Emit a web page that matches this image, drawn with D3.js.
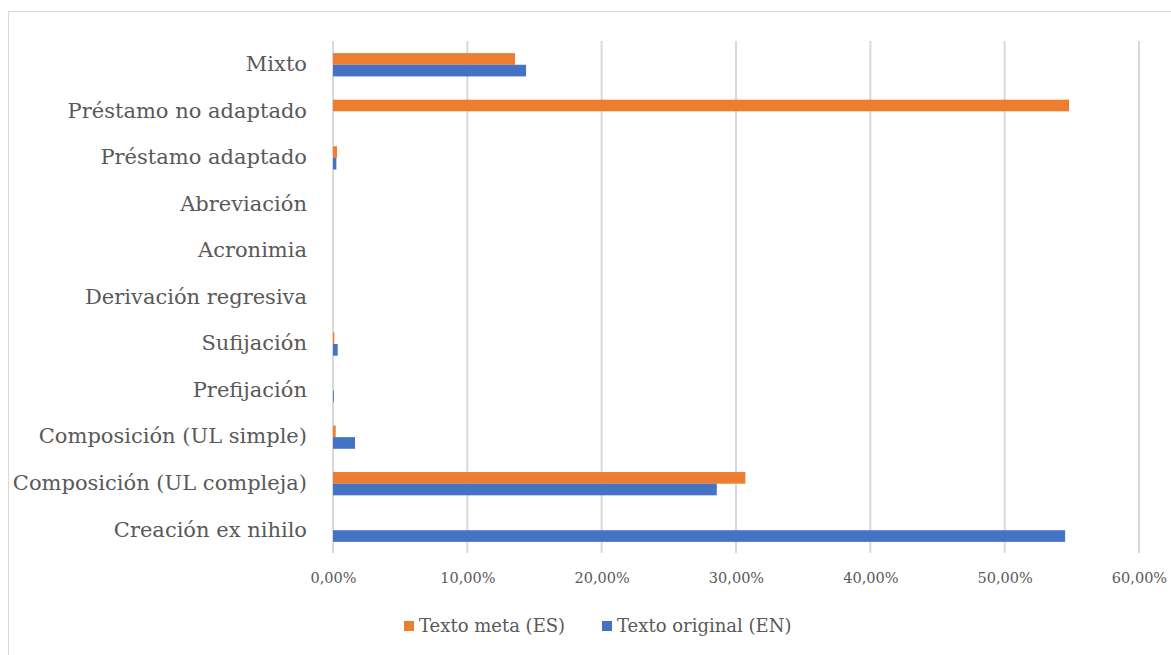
<!DOCTYPE html>
<html><head><meta charset="utf-8">
<script src="https://cdn.jsdelivr.net/npm/d3@7"></script>
<style>body{margin:0;background:#fff}svg{display:block}</style>
</head><body>
<script>
const categories = ["Creación ex nihilo","Composición (UL compleja)","Composición (UL simple)","Prefijación","Sufijación","Derivación regresiva","Acronimia","Abreviación","Préstamo adaptado","Préstamo no adaptado","Mixto"];
const metaES = [0, 30.7, 0.2, 0, 0.1, 0, 0, 0, 0.3, 54.8, 13.55];
const originalEN = [54.5, 28.57, 1.64, 0.06, 0.35, 0, 0, 0, 0.25, 0, 14.37];
const ticks = [0,10,20,30,40,50,60];
const seriesNames = ["Texto meta (ES)","Texto original (EN)"];
const colors = ["#ED7D31","#4472C4"];

const W=1171,H=655;
const svg=d3.select("body").append("svg").attr("width",W).attr("height",H);
const font='"Palatino Linotype","Book Antiqua",Palatino,"DejaVu Serif",serif';
svg.append("rect").attr("x",8.5).attr("y",11.5).attr("width",W+20).attr("height",H+20).attr("fill","none").attr("stroke","#d9d9d9");

const x=d3.scaleLinear().domain([0,60]).range([333,1139]);
const y=d3.scaleBand().domain(categories.slice().reverse()).range([41.5,553.5]).paddingInner(0.5).paddingOuter(0.25);
const sub=d3.scaleBand().domain([0,1]).range([0,y.bandwidth()]);

svg.append("g").selectAll("line").data(ticks).join("line")
 .attr("x1",d=>x(d)).attr("x2",d=>x(d)).attr("y1",41).attr("y2",553)
 .attr("stroke","#d9d9d9").attr("stroke-width",2);

const data=categories.map((c,i)=>({c,v:[metaES[i],originalEN[i]]}));
const g=svg.append("g");
data.forEach(d=>{
  d.v.forEach((v,s)=>{
    if(v<=0) return;
    g.append("rect").attr("x",x(0)).attr("y",y(d.c)+sub(s)).attr("width",x(v)-x(0)).attr("height",sub.bandwidth()).attr("fill",colors[s]);
  });
});

const ax=d3.axisBottom(x).tickValues(ticks).tickSize(0).tickFormat(d=>d.toFixed(2).replace(".",",")+"%");
const axg=svg.append("g").attr("transform","translate(0,570)").call(ax);
axg.select(".domain").remove();
axg.selectAll("text").attr("font-family",font).attr("font-size",14.5).attr("fill","#595959");

const ay=d3.axisLeft(y).tickSize(0).tickPadding(0);
const ayg=svg.append("g").attr("transform","translate(307,0)").call(ay);
ayg.select(".domain").remove();
ayg.selectAll("text").attr("font-family",font).attr("font-size",21).attr("fill","#595959").attr("dy","0.3em");

const lg=svg.append("g");
const lx=[404,602];
seriesNames.forEach((n,i)=>{
  lg.append("rect").attr("x",lx[i]).attr("y",621).attr("width",10).attr("height",10).attr("fill",colors[i]);
  lg.append("text").attr("x",lx[i]+15).attr("y",632).attr("font-family",font).attr("font-size",18).attr("fill","#595959").text(n);
});
</script>
</body></html>
